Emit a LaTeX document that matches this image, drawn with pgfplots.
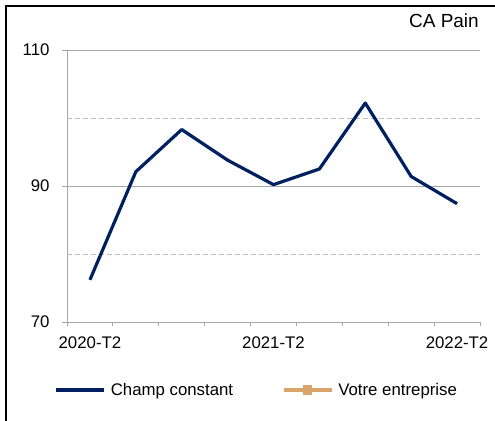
\documentclass[border=0pt]{standalone}
\usepackage{pgfplots}
\pgfplotsset{compat=1.18}
\usepackage{fontspec}
\setmainfont{Liberation Sans}
\definecolor{navy}{RGB}{0,32,96}
\definecolor{tanc}{RGB}{217,165,107}
\definecolor{gridg}{RGB}{166,166,166}
\definecolor{dashg}{RGB}{190,190,190}
\begin{document}
\begin{tikzpicture}
\begin{axis}[
  at={(0,0)}, anchor=south west,
  scale only axis, width=413bp, height=272bp,
  xmin=0.5, xmax=9.5, ymin=70, ymax=110,
  axis x line*=bottom, axis y line*=left,
  axis line style={gridg, line width=0.8bp},
  xtick={1,5,9}, xticklabels={2020-T2,2021-T2,2022-T2},
  major x tick style={draw=none},
  minor xtick={0.5,1.5,...,9.5},
  minor x tick style={gridg, line width=0.8bp},
  minor tick length=4bp,
  ytick={70,90,110},
  major y tick style={gridg, line width=0.8bp},
  major tick length=5bp,
  tick align=outside,
  ymajorgrids, major grid style={gridg, line width=0.8bp},
  extra y ticks={80,100}, extra y tick labels={},
  extra y tick style={major tick length=0pt, grid=major, major grid style={dashg, dashed, dash pattern=on 5bp off 3bp, line width=0.9bp}},
  ticklabel style={font=\fontsize{16.8bp}{19bp}\selectfont, text=black},
  yticklabel style={xshift=-9bp},
  xticklabel style={yshift=-6bp},
  /pgf/number format/assume math mode=true,
  clip=false,
  legend style={at={(axis description cs:-0.0305,-0.25)}, anchor=west, draw=none, fill=none,
    font=\fontsize{16.8bp}{19bp}\selectfont, legend columns=2, inner sep=0pt,
    nodes={inner sep=0pt},
    /tikz/every odd column/.append style={column sep=5bp},
    /tikz/every even column/.append style={column sep=49bp}},
  legend image code/.code={\draw[mark repeat=2,mark phase=2,#1] plot coordinates {(0bp,0bp)(24bp,0bp)(48bp,0bp)};},
]
\addplot[navy, line width=3.2bp, line join=round] coordinates {
  (1,76.2) (2,92.1) (3,98.3) (4,93.8) (5,90.2) (6,92.5) (7,102.2) (8,91.4) (9,87.4)};
\addlegendentry{Champ constant}
\addlegendimage{tanc, line width=3.2bp, mark=square*, mark size=4.2bp, mark options={line width=0pt}}
\addlegendentry{Votre entreprise}
\end{axis}
\draw[black, line width=1.5bp] (-61bp,-99bp) -- (-61bp,316bp) -- (428bp,316bp);
\node[anchor=base east, inner sep=0pt, font=\fontsize{19bp}{22bp}\selectfont] at (412bp,294bp) {CA Pain};
\pgfresetboundingbox
\useasboundingbox (-67bp,-99bp) rectangle (428bp,322bp);
\end{tikzpicture}
\end{document}
